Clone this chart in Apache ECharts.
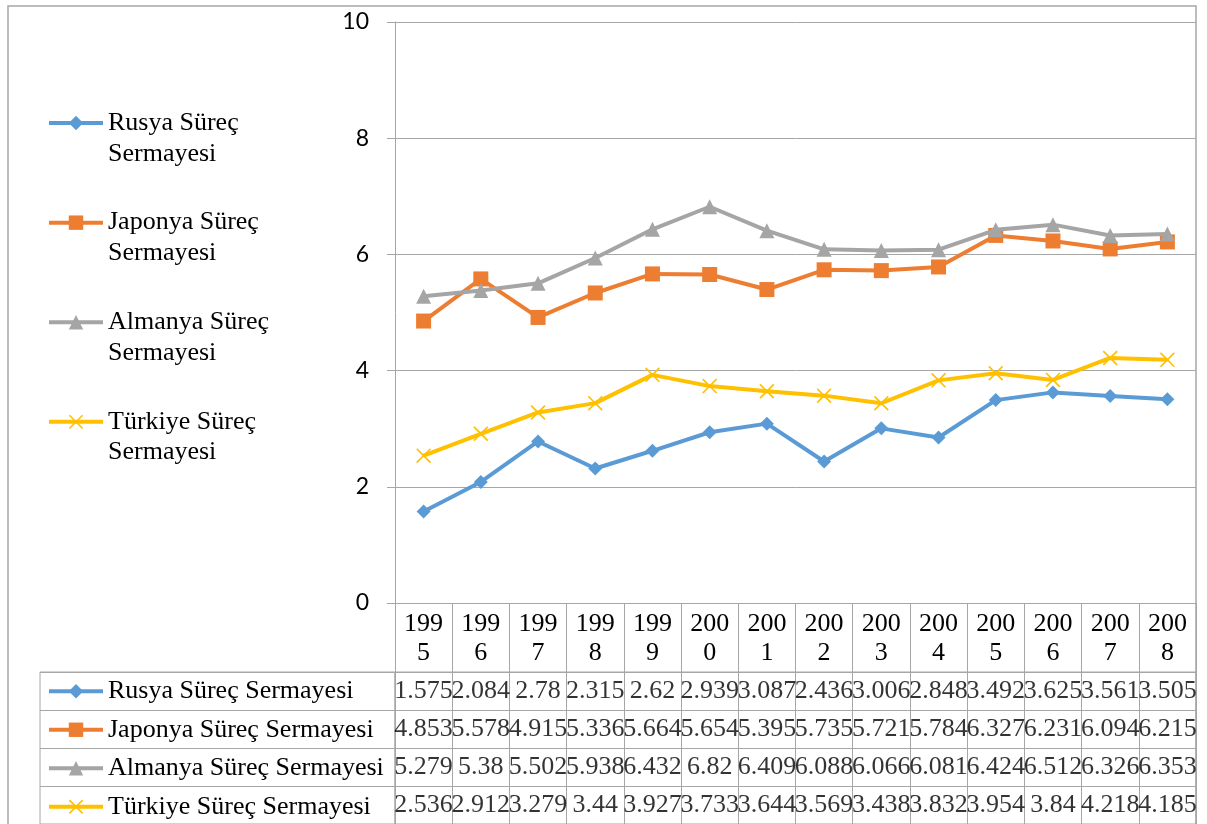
<!DOCTYPE html>
<html>
<head>
<meta charset="utf-8">
<script src="https://cdn.jsdelivr.net/npm/echarts@6/dist/echarts.min.js"></script>
<style>
  html, body { margin: 0; padding: 0; background: #fff; }
  #chart { width: 1207px; height: 824px; }
</style>
</head>
<body>
<div id="chart"></div>
<script>
// Years on the category axis and in the data table
const years = ['1995', '1996', '1997', '1998', '1999', '2000', '2001', '2002', '2003', '2004', '2005', '2006', '2007', '2008'];

// Series names
const seriesNames = ['Rusya Süreç Sermayesi', 'Japonya Süreç Sermayesi', 'Almanya Süreç Sermayesi', 'Türkiye Süreç Sermayesi'];

// Values per series
const rusya   = [1.575, 2.084, 2.78, 2.315, 2.62, 2.939, 3.087, 2.436, 3.006, 2.848, 3.492, 3.625, 3.561, 3.505];
const japonya = [4.853, 5.578, 4.915, 5.336, 5.664, 5.654, 5.395, 5.735, 5.721, 5.784, 6.327, 6.231, 6.094, 6.215];
const almanya = [5.279, 5.38, 5.502, 5.938, 6.432, 6.82, 6.409, 6.088, 6.066, 6.081, 6.424, 6.512, 6.326, 6.353];
const turkiye = [2.536, 2.912, 3.279, 3.44, 3.927, 3.733, 3.644, 3.569, 3.438, 3.832, 3.954, 3.84, 4.218, 4.185];

// Value axis ticks
const yMin = 0, yMax = 10, yStep = 2;

const seriesValues = [rusya, japonya, almanya, turkiye];
const colors = ['#5B9BD5', '#ED7D31', '#A5A5A5', '#FFC000'];
const crossPath = 'path://M0,0.8L0.8,0L10,9.2L9.2,10Z M9.2,0L10,0.8L0.8,10L0,9.2Z';
const symbols = ['diamond', 'rect', 'triangle', crossPath];
const symbolSizes = [14, 15, 15, 15];

const lineGrey = '#a6a6a6';
const serif = 'Liberation Serif';

// Layout of the plot and the data table below it
const plot = { left: 395, right: 11, top: 22, bottom: 221 };
const table = { top: 672, rowH: 38.5, keyLeft: 40 };

// Table cells: [year, series name, value]
const tableData = [];
seriesNames.forEach((n, i) => {
  years.forEach((y, j) => tableData.push([y, n, seriesValues[i][j]]));
});

const lineSeries = seriesNames.map((n, i) => ({
  name: n,
  type: 'line',
  xAxisIndex: 0,
  yAxisIndex: 0,
  data: seriesValues[i],
  symbol: symbols[i],
  symbolSize: symbolSizes[i],
  showAllSymbol: true,
  lineStyle: { width: 4, color: colors[i] },
  itemStyle: { color: colors[i] },
  emphasis: { disabled: true },
  z: 3 + i
}));

const chart = echarts.init(document.getElementById('chart'), null, { renderer: 'canvas' });

chart.setOption({
  animation: false,
  color: colors,
  graphic: [{
    type: 'rect',
    silent: true,
    z: -10,
    shape: { x: 8, y: 6, width: 1188, height: 900 },
    style: { fill: 'none', stroke: lineGrey, lineWidth: 1.5 }
  }],
  legend: [{
    // side legend: a blank leading line keeps the key level with the first line of the name
    orient: 'vertical',
    left: 47,
    top: 77,
    height: 420,
    padding: 0,
    itemGap: 7.5,
    itemWidth: 54,
    itemHeight: 18,
    selectedMode: false,
    data: seriesNames,
    formatter: n => '\n' + n.replace(' Sermayesi', '\nSermayesi'),
    lineStyle: { width: 4 },
    textStyle: { fontFamily: serif, fontSize: 26, lineHeight: 30.7, color: '#000' }
  }, {
    // keys in the first column of the data table
    orient: 'vertical',
    left: 47,
    top: table.top,
    height: 200,
    padding: 0,
    itemGap: 0,
    itemWidth: 54,
    itemHeight: 18,
    selectedMode: false,
    data: seriesNames,
    lineStyle: { width: 4 },
    textStyle: { fontFamily: serif, fontSize: 26, lineHeight: table.rowH, color: '#000' }
  }],
  grid: [{
    left: plot.left, right: plot.right, top: plot.top, bottom: plot.bottom,
    containLabel: false
  }, {
    left: plot.left, right: plot.right, top: table.top, height: table.rowH * 4,
    show: true, borderColor: lineGrey, borderWidth: 1, backgroundColor: 'transparent'
  }, {
    left: table.keyLeft, width: plot.left - table.keyLeft, top: table.top, height: table.rowH * 4,
    show: true, borderColor: lineGrey, borderWidth: 1, backgroundColor: 'transparent'
  }],
  xAxis: [{
    type: 'category',
    gridIndex: 0,
    data: years,
    boundaryGap: true,
    axisLine: { show: true, lineStyle: { color: lineGrey, width: 1 } },
    axisTick: { show: true, interval: 0, length: table.top - (824 - plot.bottom), lineStyle: { color: lineGrey, width: 1 } },
    axisLabel: {
      interval: 0,
      formatter: v => v.slice(0, 3) + '\n' + v.slice(3),
      fontFamily: serif, fontSize: 26, lineHeight: 29, color: '#000', margin: 7
    },
    splitLine: { show: false }
  }, {
    type: 'category',
    gridIndex: 1,
    data: years,
    axisLine: { show: false },
    axisTick: { show: false },
    axisLabel: { show: false },
    splitLine: { show: true, interval: 0, lineStyle: { color: lineGrey, width: 1 } }
  }, {
    type: 'value',
    gridIndex: 2,
    show: false
  }],
  yAxis: [{
    type: 'value',
    gridIndex: 0,
    min: yMin, max: yMax, interval: yStep,
    axisLine: { show: true, lineStyle: { color: lineGrey, width: 1 } },
    axisTick: { show: true, length: 8, lineStyle: { color: lineGrey, width: 1 } },
    axisLabel: { fontFamily: 'Lato', fontSize: 23, color: '#000', margin: 26 },
    splitLine: { show: true, lineStyle: { color: lineGrey, width: 1 } }
  }, {
    type: 'category',
    gridIndex: 1,
    data: seriesNames,
    inverse: true,
    axisLine: { show: false },
    axisTick: { show: false },
    axisLabel: { show: false },
    splitLine: { show: true, interval: 0, lineStyle: { color: lineGrey, width: 1 } }
  }, {
    type: 'category',
    gridIndex: 2,
    data: seriesNames,
    inverse: true,
    axisLine: { show: false },
    axisTick: { show: false },
    axisLabel: { show: false },
    splitLine: { show: true, interval: 0, lineStyle: { color: lineGrey, width: 1 } }
  }],
  series: lineSeries.concat([{
    type: 'scatter',
    name: 'tablo',
    xAxisIndex: 1,
    yAxisIndex: 1,
    data: tableData,
    symbolSize: 1,
    itemStyle: { color: 'rgba(0,0,0,0)' },
    silent: true,
    label: {
      show: true,
      position: 'inside',
      formatter: p => String(p.value[2]),
      fontFamily: serif, fontSize: 26, color: '#000'
    }
  }])
});
</script>
</body>
</html>
